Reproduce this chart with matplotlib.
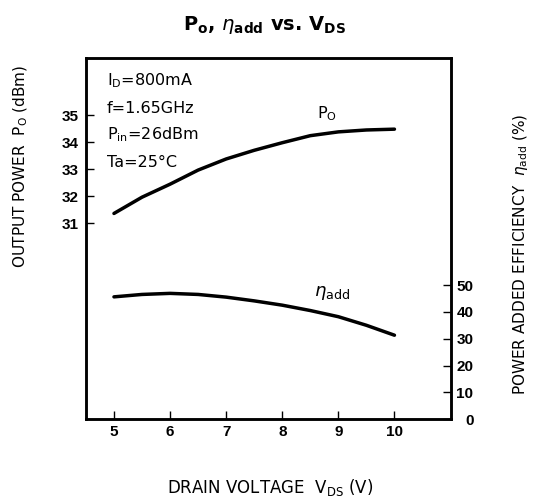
import matplotlib
matplotlib.use("Agg")
import matplotlib.pyplot as plt

plt.rcParams['font.family'] = ['DejaVu Sans']
plt.rcParams['mathtext.fontset'] = 'dejavusans'

# drain voltage (V) every 0.5 V
vds = [5, 5.5, 6, 6.5, 7, 7.5, 8, 8.5, 9, 9.5, 10]
# output power Po (dBm)
po = [31.37, 31.97, 32.45, 32.97, 33.38, 33.70, 33.98, 34.24, 34.38, 34.45, 34.48]
# power added efficiency (%)
eta = [45.6, 46.5, 46.9, 46.5, 45.5, 44.1, 42.5, 40.5, 38.2, 35.0, 31.3]

x_ticks = [5, 6, 7, 8, 9, 10]
po_ticks = [31, 32, 33, 34, 35]
eta_ticks = [0, 10, 20, 30, 40, 50]
conditions = ['I$_{\\rm D}$=800mA', 'f=1.65GHz', 'P$_{\\rm in}$=26dBm', 'Ta=25°C']

fig = plt.figure(figsize=(5.37, 4.99), dpi=100)
ax = fig.add_axes([0.160, 0.160, 0.679, 0.724])
ax2 = ax.twinx()

ax.plot(vds, po, color='black', lw=2.5, solid_capstyle='round')
ax2.plot(vds, eta, color='black', lw=2.5, solid_capstyle='round')

ax.set_xlim(4.5, 11)
ax.set_ylim(23.78, 37.11)
ax2.set_ylim(0, 134.7)

ax.set_xticks(x_ticks)
ax.set_yticks(po_ticks)
ax2.set_yticks(eta_ticks)

for a in (ax, ax2):
    for s in a.spines.values():
        s.set_linewidth(1.8)

ax.tick_params(axis='both', direction='in', length=6, width=1.0, labelsize=11, pad=4.5)
ax.tick_params(axis='y', pad=5)
ax2.tick_params(axis='y', direction='in', length=6, width=1.0, labelsize=11, pad=16.5)
for lab in ax.get_xticklabels() + ax.get_yticklabels():
    lab.set_fontfamily('Liberation Sans')
    lab.set_fontweight('bold')
for lab in ax2.get_yticklabels():
    lab.set_fontfamily('Liberation Sans')
    lab.set_fontweight('bold')
    lab.set_horizontalalignment('right')

# operating conditions
for i, txt in enumerate(conditions):
    ax.text(4.87, 36.26 - i * 1.0, txt, fontsize=11.5, va='center', ha='left')

ax.text(8.8, 35.04, 'P$_{\\rm O}$', fontsize=11.5, ha='center', va='center')
ax2.text(8.89, 47.0, '$\\eta_{\\rm add}$', fontsize=13, ha='center', va='center')

fig.text(265 / 537, 1 - 25 / 499,
         'P$_{\\mathbf{o}}$, $\\eta_{\\mathbf{add}}$ vs. V$_{\\mathbf{DS}}$',
         fontsize=14, fontweight='bold', ha='center', va='center')
fig.text(21 / 537, 1 - 166 / 499, 'OUTPUT POWER  P$_{\\rm O}$ (dBm)',
         rotation=90, fontsize=11, ha='center', va='center')
fig.text(520 / 537, 1 - 254 / 499, 'POWER ADDED EFFICIENCY  $\\eta_{\\rm add}$ (%)',
         rotation=90, fontsize=11, ha='center', va='center')
fig.text(270 / 537, 1 - 487 / 499, 'DRAIN VOLTAGE  V$_{\\rm DS}$ (V)',
         fontsize=12, ha='center', va='center')

fig.savefig('out.png', dpi=100)
